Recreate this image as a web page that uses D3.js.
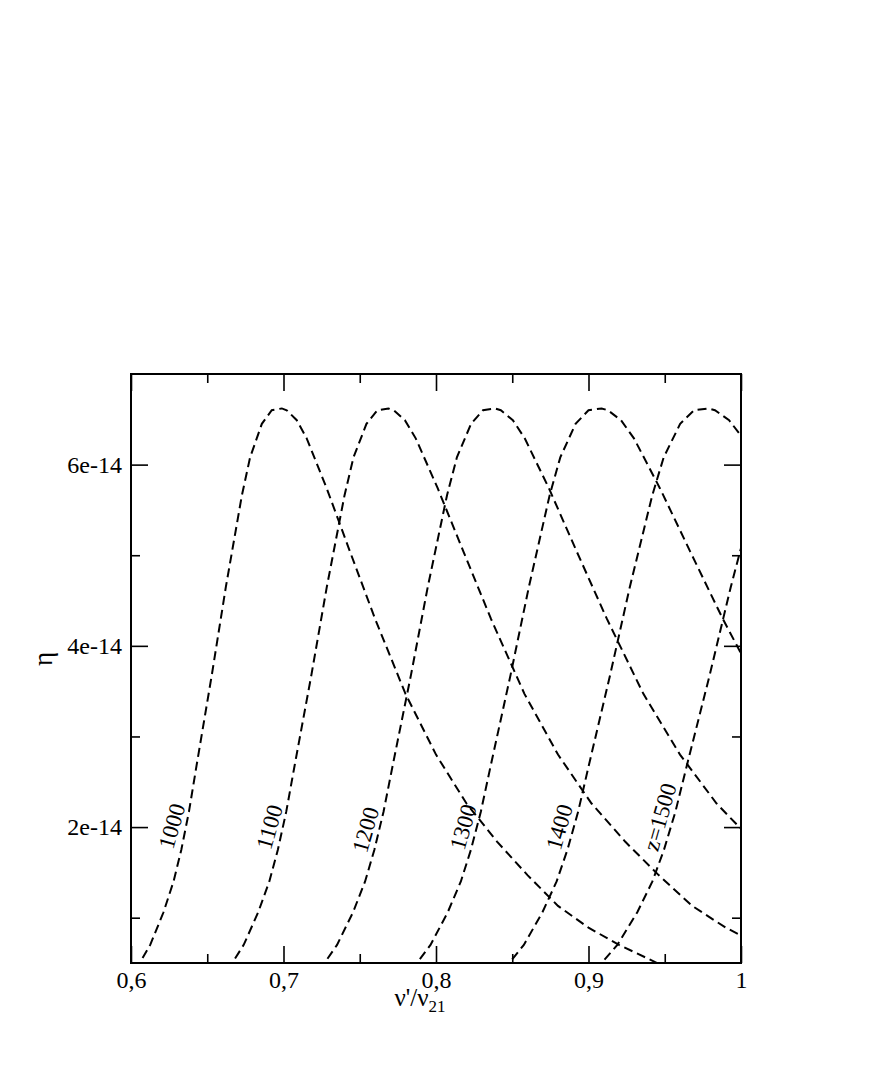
<!DOCTYPE html>
<html>
<head>
<meta charset="utf-8">
<script src="https://cdn.jsdelivr.net/npm/d3@7"></script>
<style>
  body { margin: 0; background: #fff; }
  svg text { font-family: "Liberation Serif", "DejaVu Serif", serif; fill: #000; }
</style>
</head>
<body>
<div id="chart"></div>
<script>
// eta values shared by every redshift curve (the curves are the same profile shifted in frequency)
const eta = [0.42e-14, 0.70e-14, 1.06e-14, 1.40e-14, 1.75e-14, 2.17e-14, 2.68e-14, 3.68e-14, 4.65e-14, 5.66e-14,
  6.08e-14, 6.45e-14, 6.60e-14, 6.62e-14, 6.60e-14, 6.49e-14, 6.29e-14, 5.74e-14, 5.04e-14, 4.30e-14,
  3.47e-14, 2.80e-14, 2.26e-14, 1.84e-14, 1.47e-14, 1.13e-14, 0.89e-14, 0.70e-14, 0.54e-14, 0.42e-14];

// nu'/nu21 positions read for each curve
const nu1000 = [0.6030, 0.6126, 0.6213, 0.6279, 0.6330, 0.6380, 0.6430, 0.6530, 0.6622, 0.6727,
  0.6781, 0.6858, 0.6923, 0.6989, 0.7021, 0.7087, 0.7152, 0.7283, 0.7436, 0.7600,
  0.7800, 0.8000, 0.8200, 0.8400, 0.8600, 0.8800, 0.9000, 0.9200, 0.9400, 0.9550];
const nu1100 = [0.6633, 0.6739, 0.6834, 0.6907, 0.6963, 0.7018, 0.7073, 0.7183, 0.7284, 0.7400,
  0.7459, 0.7544, 0.7615, 0.7688, 0.7723, 0.7796, 0.7867, 0.8011, 0.8180, 0.8360,
  0.8580, 0.8800, 0.9020, 0.9240, 0.9460, 0.9680, 0.9900, 1.0120];
const nu1200 = [0.7236, 0.7351, 0.7456, 0.7535, 0.7596, 0.7656, 0.7716, 0.7836, 0.7946, 0.8072,
  0.8137, 0.8230, 0.8308, 0.8387, 0.8425, 0.8504, 0.8582, 0.8740, 0.8923, 0.9120,
  0.9360, 0.9600, 0.9840, 1.0080];
const nu1300 = [0.7839, 0.7964, 0.8077, 0.8163, 0.8229, 0.8294, 0.8359, 0.8489, 0.8609, 0.8745,
  0.8815, 0.8915, 0.9000, 0.9086, 0.9127, 0.9213, 0.9298, 0.9468, 0.9667, 0.9880, 1.0140];
const nu1400 = [0.8442, 0.8576, 0.8698, 0.8791, 0.8862, 0.8932, 0.9002, 0.9142, 0.9271, 0.9418,
  0.9493, 0.9601, 0.9692, 0.9785, 0.9829, 0.9922, 1.0013];
const nu1500 = [0.9045, 0.9189, 0.9320, 0.9419, 0.9495, 0.9570, 0.9645, 0.9795, 0.9933, 1.0091];

const curveLabels = ['1000', '1100', '1200', '1300', '1400', 'z=1500'];
const labelNu = [0.627, 0.691, 0.754, 0.818, 0.881, 0.947];
const labelEta = [2.01e-14, 2.00e-14, 1.97e-14, 2.00e-14, 2.00e-14, 2.11e-14];

const xMajor = [0.6, 0.7, 0.8, 0.9, 1.0];
const xMinor = [0.65, 0.75, 0.85, 0.95];
const yMajor = [2e-14, 4e-14, 6e-14];
const yMinor = [1e-14, 3e-14, 5e-14];

const width = 872, height = 1090;
const margin = {top: 374, right: 131, bottom: 127, left: 131};
const serif = '"Liberation Serif", "DejaVu Serif", serif';

const svg = d3.select('#chart').append('svg')
  .attr('width', width).attr('height', height)
  .attr('viewBox', [0, 0, width, height]);

const xScale = d3.scaleLinear().domain([0.6, 1.0]).range([margin.left, width - margin.right]);
const yScale = d3.scaleLinear().domain([0.5e-14, 7e-14]).range([height - margin.bottom, margin.top]);

const commaFmt = d3.formatLocale({decimal: ',', thousands: '.', grouping: [3], currency: ['', '']}).format('.1~f');

svg.append('clipPath').attr('id', 'plotClip')
  .append('rect')
  .attr('x', xScale(0.6)).attr('y', yScale(7e-14))
  .attr('width', xScale(1.0) - xScale(0.6))
  .attr('height', yScale(0.5e-14) - yScale(7e-14));

// curves
const series = [nu1000, nu1100, nu1200, nu1300, nu1400, nu1500];
const line = d3.line().x(d => xScale(d[0])).y(d => yScale(d[1]));
svg.append('g').attr('clip-path', 'url(#plotClip)')
  .selectAll('path')
  .data(series.map(nu => nu.map((v, i) => [v, eta[i]])))
  .join('path')
  .attr('d', line)
  .attr('fill', 'none')
  .attr('stroke', '#000')
  .attr('stroke-width', 2)
  .attr('stroke-dasharray', '9,5');

// axes: ticks point inward on all four sides
const bottomY = height - margin.bottom, topY = margin.top;
const leftX = margin.left, rightX = width - margin.right;

function addAxis(axis, transform) {
  const g = svg.append('g').attr('transform', transform).call(axis)
    .attr('font-family', serif).attr('font-size', 24);
  g.select('.domain').remove();
  g.selectAll('.tick line').attr('stroke', '#000').attr('stroke-width', 1.6);
  g.selectAll('.tick text').attr('fill', '#000');
  return g;
}

addAxis(d3.axisBottom(xScale).tickValues(xMajor).tickSize(-17).tickPadding(8).tickFormat(commaFmt), `translate(0,${bottomY})`);
addAxis(d3.axisBottom(xScale).tickValues(xMinor).tickSize(-9).tickFormat(''), `translate(0,${bottomY})`);
addAxis(d3.axisTop(xScale).tickValues(xMajor).tickSize(-17).tickFormat(''), `translate(0,${topY})`);
addAxis(d3.axisTop(xScale).tickValues(xMinor).tickSize(-9).tickFormat(''), `translate(0,${topY})`);

addAxis(d3.axisLeft(yScale).tickValues(yMajor).tickSize(-17).tickPadding(9).tickFormat(d => Math.round(d * 1e14) + 'e-14'), `translate(${leftX},0)`);
addAxis(d3.axisLeft(yScale).tickValues(yMinor).tickSize(-9).tickFormat(''), `translate(${leftX},0)`);
addAxis(d3.axisRight(yScale).tickValues(yMajor).tickSize(-17).tickFormat(''), `translate(${rightX},0)`);
addAxis(d3.axisRight(yScale).tickValues(yMinor).tickSize(-9).tickFormat(''), `translate(${rightX},0)`);

// frame
svg.append('rect')
  .attr('x', leftX).attr('y', topY)
  .attr('width', rightX - leftX).attr('height', bottomY - topY)
  .attr('fill', 'none').attr('stroke', '#000').attr('stroke-width', 2);

// curve labels
svg.append('g').selectAll('text')
  .data(curveLabels)
  .join('text')
  .attr('transform', (d, i) => `translate(${xScale(labelNu[i])},${yScale(labelEta[i])}) rotate(-74)`)
  .attr('text-anchor', 'middle')
  .attr('dominant-baseline', 'central')
  .attr('font-family', serif)
  .attr('font-size', 23)
  .text(d => d);

// axis titles
svg.append('text')
  .attr('transform', 'translate(52,659) rotate(-90)')
  .attr('text-anchor', 'middle')
  .attr('font-family', serif)
  .attr('font-size', 27)
  .text('η');

const xTitle = svg.append('text')
  .attr('x', 420).attr('y', 1006)
  .attr('text-anchor', 'middle')
  .attr('font-family', serif)
  .attr('font-size', 25);
xTitle.append('tspan').text('ν\'/ν');
xTitle.append('tspan').attr('dy', 6).attr('font-size', 17).text('21');
</script>
</body>
</html>
